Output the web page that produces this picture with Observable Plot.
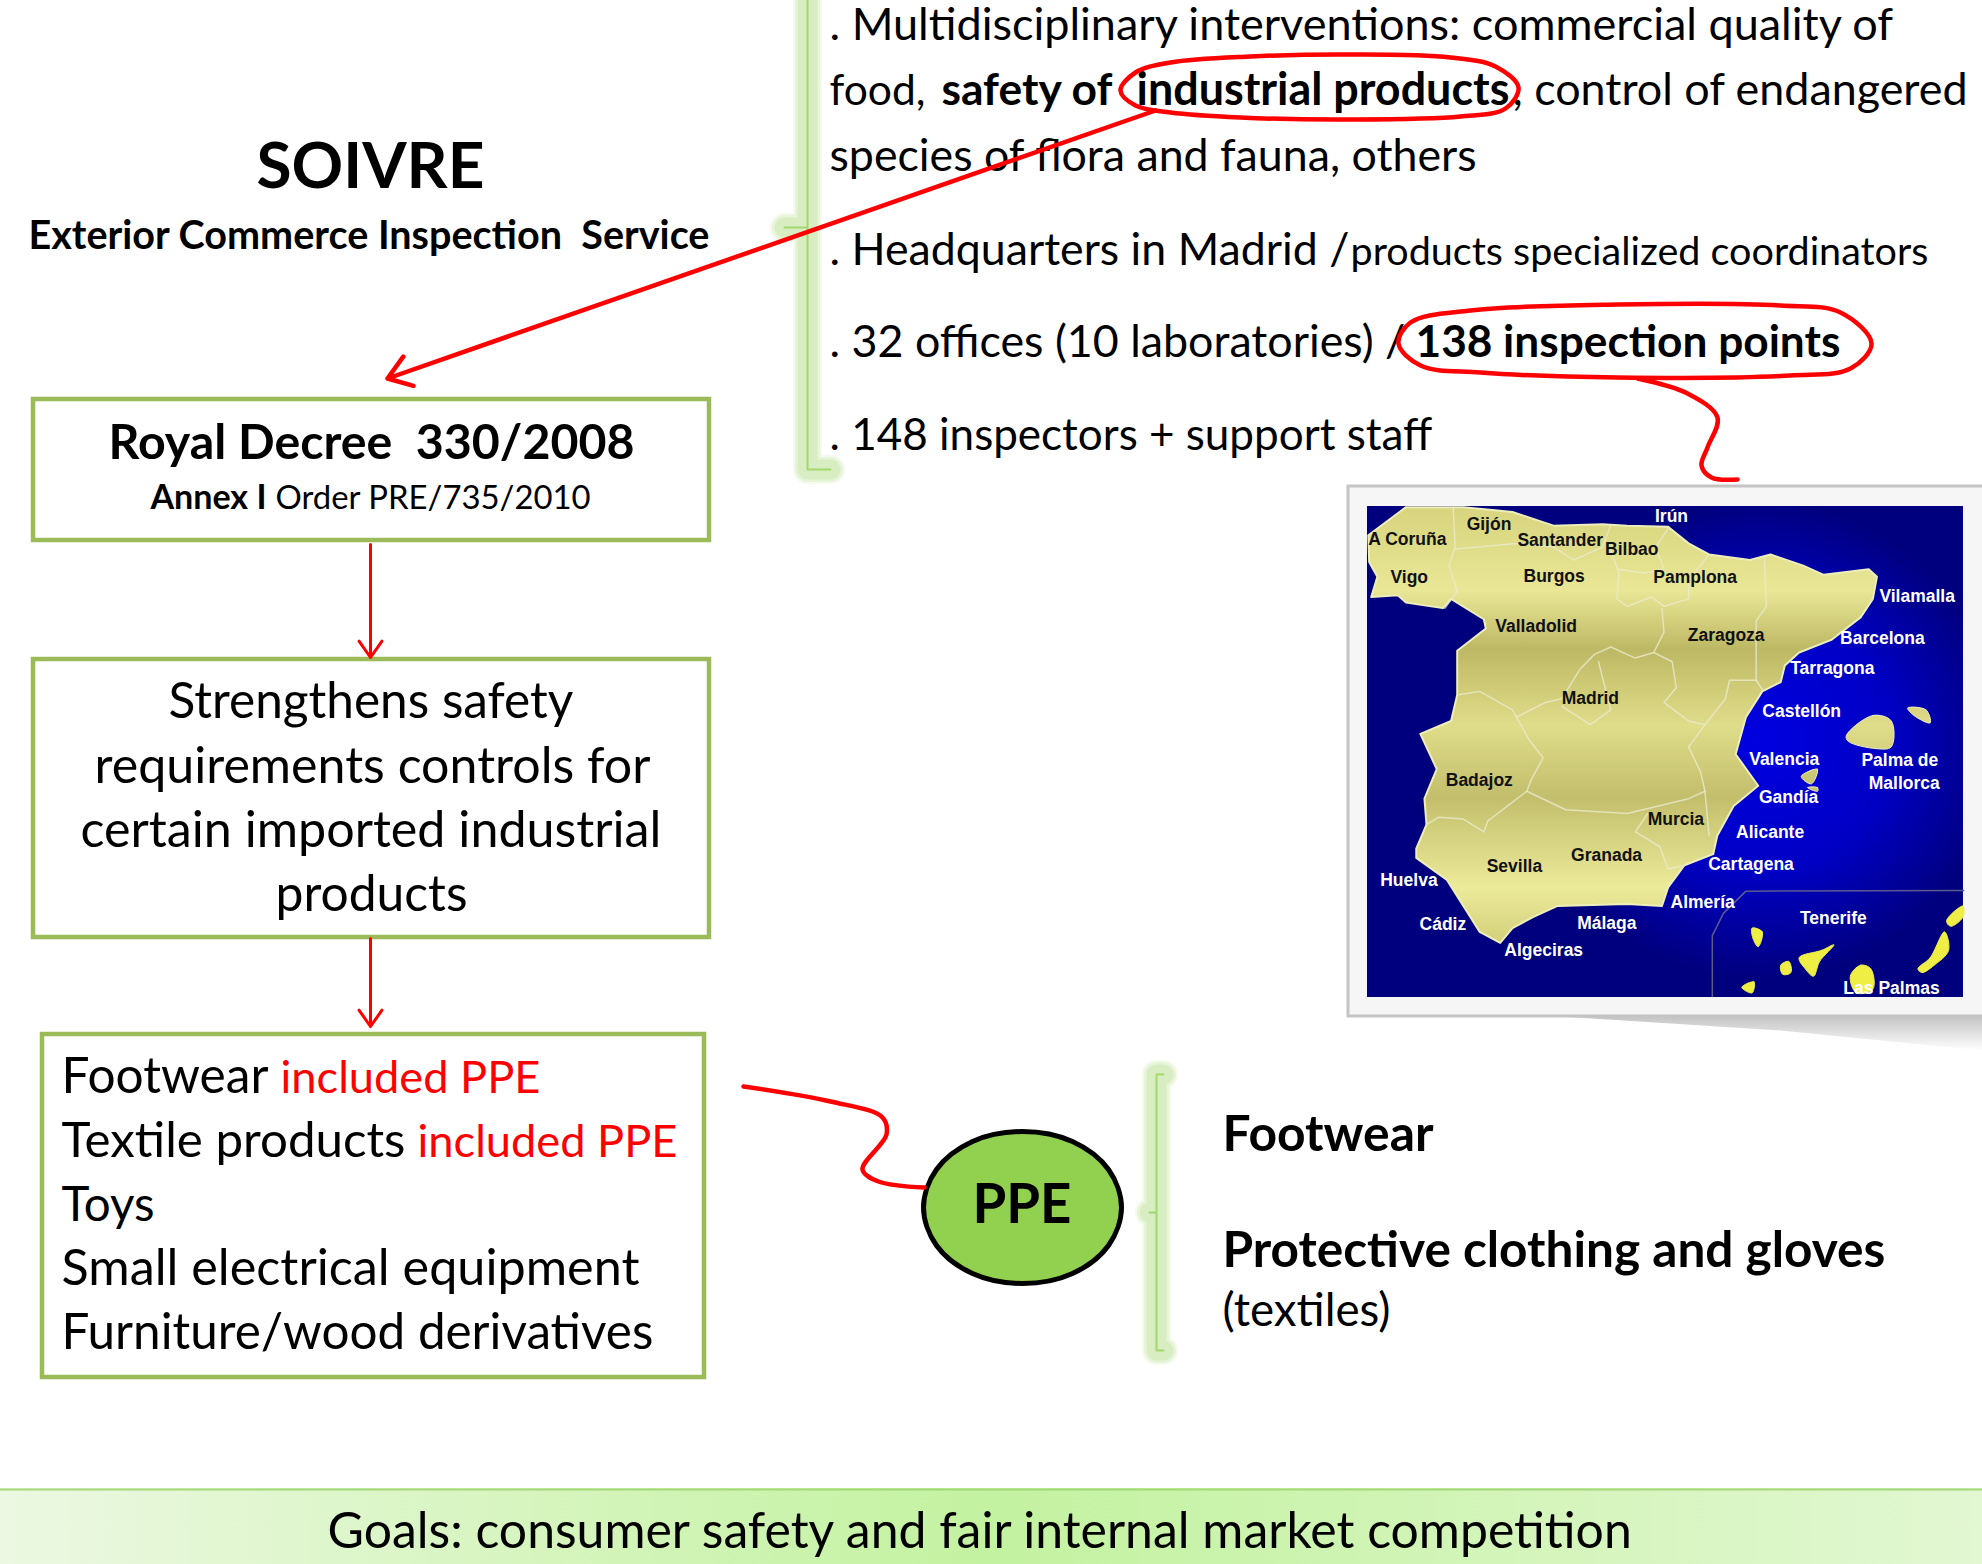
<!DOCTYPE html>
<html><head><meta charset="utf-8">
<style>html,body{margin:0;padding:0;background:#fff}svg{display:block}</style>
<script src="https://cdn.jsdelivr.net/npm/d3@7"></script>
<script src="https://cdn.jsdelivr.net/npm/@observablehq/plot@0.6"></script>
</head><body><div id="chart"></div>
<script>
// text: [string, left x, baseline y, width on the page]
const regularText = [
 [". Multidisciplinary interventions: commercial quality of",829,39,1066],
 ["food,",829,104,96],
 [", control of endangered",1512,104,456],
 ["species of flora and fauna, others",829,170,648],
 [". Headquarters in Madrid /",829,264,520],
 ["products specialized coordinators",1350,264,578],
 [". 32 offices (10 laboratories) /",829,356,576],
 [". 148 inspectors + support staff",829,449,603],
 ["Order PRE/735/2010",275,508,316],
 ["Strengthens safety",168,717,405],
 ["requirements controls for",94,782,556],
 ["certain imported industrial",80,846,581],
 ["products",275,910,192],
 ["Footwear",61,1092,207],
 ["Textile products",61,1156,344],
 ["Toys",61,1220,93],
 ["Small electrical equipment",61,1284,578],
 ["Furniture/wood derivatives",61,1348,592],
 ["(textiles)",1222,1325,168],
 ["Goals: consumer safety and fair internal market competition",327,1547,1308]
];
const boldText = [
 ["safety of",941,104,172],
 ["industrial products",1136,104,373],
 ["138 inspection points",1415,356,425],
 ["SOIVRE",256,187,228],
 ["Exterior Commerce Inspection  Service",28,248,682],
 ["Royal Decree  330/2008",108,458,526],
 ["Annex I",150,508,116],
 ["PPE",972,1222,99],
 ["Footwear",1222,1150,211],
 ["Protective clothing and gloves",1222,1266,663]
];
const redText = [
 ["included PPE",280,1092,260],
 ["included PPE",417,1156,260]
];
// boxes: x1,y1,x2,y2
const boxes = [[33,399,709,540],[33,659,709,937],[42,1034,704,1377]];
const slantArrow = [[1155,110,387,378]];
const downArrows = [[370,544,370,657],[370,938,370,1026]];
const ppeEllipse = [[1121,1207],[1108,1245],[1072,1273],[1022,1283],[972,1273],[936,1245],[923,1207],[936,1169],[972,1141],[1022,1131],[1072,1141],[1108,1169]];
const ringProducts = [[1120,90],[1135,72],[1170,62],[1250,56],[1350,54],[1450,57],[1495,66],[1518,87],[1505,108],[1460,116],[1345,119],[1240,117],[1170,112],[1135,105]];
const ringPoints = [[1398,343],[1410,322],[1470,310],[1617,304],[1780,305],[1840,312],[1871,343],[1850,368],[1790,375],[1617,377],[1480,372],[1420,365]];
const squiggleMap = [[1637,378],[1687,393],[1717,417],[1707,447],[1701,465],[1711,477],[1737,479]];
const squigglePPE = [[743,1086],[830,1101],[882,1117],[886,1134],[862,1169],[878,1181],[924,1187]];
const bracketTop = [[807,-8],[807,469],[830,469],[NaN,NaN],[784,227],[807,227]];
const bracketPPE = [[1163,1074],[1156,1074],[1156,1350],[1163,1350],[NaN,NaN],[1149,1212],[1156,1212]];

// map: in map units
const spain = [[68,148],[160,72],[300,72],[420,85],[520,122],[640,118],[700,122],[800,125],[850,170],[900,200],[1000,215],[1050,200],[1130,230],[1180,255],[1290,240],[1310,260],[1300,320],[1270,370],[1200,430],[1120,465],[1085,500],[1075,545],[1030,570],[990,640],[965,740],[1020,825],[960,880],[920,960],[910,1010],[840,1040],[800,1100],[785,1150],[700,1145],[530,1150],[470,1180],[420,1210],[390,1250],[340,1220],[300,1150],[260,1080],[185,1020],[185,995],[210,930],[205,860],[235,780],[195,685],[270,650],[285,580],[285,460],[355,400],[350,375],[270,320],[250,345],[160,330],[140,310],[75,315],[90,260],[70,220]];
const borders = [
 [[275,72],[280,180],[265,230],[285,300],[255,345]],
 [[280,185],[430,170],[520,180],[570,215],[640,180],[660,120]],
 [[660,190],[680,250],[675,320],[700,340],[760,315],[790,340],[850,320],[850,270],[900,200]],
 [[680,240],[740,250],[790,240],[770,180],[800,130]],
 [[785,345],[790,410],[765,465],[810,490],[820,560],[790,600],[850,650],[890,660]],
 [[1035,210],[1040,340],[1015,380],[1015,540],[1030,565]],
 [[1015,540],[950,540],[940,590],[890,660],[850,720],[880,790],[890,840],[900,960]],
 [[765,465],[720,480],[660,450],[620,470],[585,510],[540,590],[500,600],[430,640]],
 [[630,490],[660,620],[610,660],[540,610]],
 [[430,640],[460,700],[495,750],[465,810],[455,840],[360,920],[350,950],[300,915],[240,910],[210,930]],
 [[285,580],[340,570],[420,620],[430,640]],
 [[455,840],[550,890],[700,900],[850,860],[890,840]],
 [[750,900],[720,950],[780,990],[800,1050],[840,1040]]
];
const balearics = [
 [[1235,690],[1300,635],[1345,650],[1345,720],[1310,725],[1240,705]],
 [[1385,615],[1430,620],[1440,655],[1400,635]],
 [[1125,800],[1165,780],[1150,820]],
 [[1140,830],[1165,830],[1165,840]]
];
const canaries = [
 [[1005,1210],[1030,1220],[1020,1260],[1008,1240]],
 [[1120,1290],[1175,1270],[1205,1255],[1170,1300],[1155,1340],[1135,1320]],
 [[1075,1310],[1095,1300],[1100,1330],[1080,1335]],
 [[1245,1340],[1270,1310],[1295,1320],[1300,1375],[1260,1385]],
 [[980,1370],[1010,1355],[1005,1385]],
 [[1410,1320],[1440,1290],[1475,1220],[1485,1270],[1450,1310],[1420,1330]],
 [[1480,1190],[1520,1150],[1520,1180],[1490,1205]]
];
const insetLine = [[908,1395],[908,1230],[935,1170],[990,1110],[1522,1108]];
const darkPlaces = [["A Coruña",68,158],["Gijón",308,118],["Santander",432,162],["Bilbao",646,187],["Vigo",122,262],["Burgos",447,258],["Pamplona",764,262],["Valladolid",378,394],["Zaragoza",848,418],["Madrid",540,589],["Badajoz",257,810],["Murcia",750,917],["Granada",563,1012],["Sevilla",357,1042]];
const lightPlaces = [["Irún",768,97],["Vilamalla",1316,313],["Barcelona",1220,426],["Tarragona",1098,507],["Castellón",1030,624],["Valencia",998,753],["Palma de",1272,757],["Mallorca",1290,818],["Gandía",1022,856],["Alicante",966,951],["Cartagena",898,1038],["Huelva",97,1081],["Almería",806,1140],["Tenerife",1122,1183],["Cádiz",193,1200],["Málaga",578,1196],["Algeciras",400,1271],["Las Palmas",1228,1374]];
const mapFrame = [[1348,486,1990,1016]];
const mapPanel = [[1367,506,1963,997]];
const shadowShape = [[1560,1016],[1982,1016],[1982,1050],[1780,1030]];
const band = [[0,1488,1982,1564]];

const mx = d => 1340 + d[0] / 2.442, my = d => 480 + d[1] / 2.703;
const ctx = document.createElement("canvas").getContext("2d");
const FONT = "Lato";
const fit = (t, w, weight) => { ctx.font = `${weight} 100px ${FONT}`; return 100 * w / ctx.measureText(t).width; };

function defs() {
  const d = d3.create("svg:defs");
  const linear = (id, x1, y1, x2, y2, stops) => {
    const g = d.append("linearGradient").attr("id", id).attr("gradientUnits", "userSpaceOnUse")
      .attr("x1", x1).attr("y1", y1).attr("x2", x2).attr("y2", y2);
    stops.forEach(([o, c]) => g.append("stop").attr("offset", o).attr("stop-color", c));
  };
  linear("land", 0, 500, 0, 950, [[0,"#d6d27c"],[.2,"#e9e796"],[.33,"#bdb864"],[.5,"#e0dd8a"],[.66,"#c2be6c"],[.86,"#eceb9a"],[1,"#cfcc76"]]);
  linear("bandFill", 0, 0, 1982, 0, [[0,"#ecf8e2"],[.5,"#c3f2a0"],[1,"#e2f7d2"]]);
  linear("shade", 0, 1016, 0, 1050, [[0,"#c4c4c4"],[1,"#ffffff"]]);
  const r = d.append("radialGradient").attr("id", "sea").attr("gradientUnits", "userSpaceOnUse")
    .attr("cx", 1760).attr("cy", 740).attr("r", 240);
  [[0,"#0000e0"],[.55,"#0000c4"],[1,"#00007e"]].forEach(([o, c]) => r.append("stop").attr("offset", o).attr("stop-color", c));
  return d.node();
}

const textMark = (rows, fill, weight) => Plot.text(rows, {
  x: d => d[1], y: d => d[2], text: d => d[0],
  fontSize: d => fit(d[0], d[3], weight),
  fill, fontWeight: weight, fontFamily: FONT, textAnchor: "start", lineAnchor: "bottom"
});
const rectMark = (rows, o) => Plot.rect(rows, {x1: d => d[0], y1: d => d[1], x2: d => d[2], y2: d => d[3], ...o});
const path = (pts, o) => Plot.line(pts, {x: d => d[0], y: d => d[1], ...o});
const glow = (pts) => [
  path(pts, {stroke: "#92d050", strokeOpacity: .1, strokeWidth: 29}),
  path(pts, {stroke: "#92d050", strokeOpacity: .13, strokeWidth: 25}),
  path(pts, {stroke: "#92d050", strokeOpacity: .16, strokeWidth: 20}),
  path(pts, {stroke: "#a2d86c", strokeWidth: 2})
];
const place = (rows, fill) => Plot.text(rows, {
  x: d => mx([d[1]]), y: d => my([0, d[2]]), text: d => d[0],
  fill, fontSize: 17.5, fontWeight: 700, fontFamily: "Liberation Sans", textAnchor: "start", lineAnchor: "middle"
});
const mapPoly = (pts, o) => Plot.line(pts, {x: mx, y: my, curve: "linear-closed", ...o});

const chart = Plot.plot({
  width: 1982, height: 1564, margin: 0,
  x: {domain: [0, 1982], range: [0, 1982], axis: null},
  y: {domain: [0, 1564], range: [0, 1564], axis: null},
  style: {background: "#fff"},
  marks: [
    defs,
    Plot.line(shadowShape, {x: d => d[0], y: d => d[1], curve: "linear-closed", fill: "url(#shade)", stroke: "none"}),
    rectMark(mapFrame, {fill: "#f6f6f6", stroke: "#c4c4c4", strokeWidth: 3}),
    rectMark(mapPanel, {fill: "url(#sea)"}),
    mapPoly(spain, {fill: "url(#land)", stroke: "#eeeebb", strokeWidth: 2}),
    ...balearics.map(p => mapPoly(p, {fill: "url(#land)", stroke: "#eeeebb", strokeWidth: 1, curve: "catmull-rom-closed"})),
    ...canaries.map(p => mapPoly(p, {fill: "#eeee44", stroke: "#eeee44", strokeWidth: 1, curve: "catmull-rom-closed"})),
    ...borders.map(p => Plot.line(p, {x: mx, y: my, stroke: "#eaeacc", strokeWidth: 1.5, strokeOpacity: .8})),
    Plot.line(insetLine, {x: mx, y: my, stroke: "#5a5a90", strokeWidth: 1.5}),
    place(darkPlaces, "#111111"),
    place(lightPlaces, "#ffffff"),

    ...glow(bracketTop), ...glow(bracketPPE),

    ...boxes.map(b => rectMark([b], {fill: "#fff", stroke: "#9bbb59", strokeWidth: 4.5})),

    rectMark(band, {fill: "url(#bandFill)"}),
    Plot.ruleY([1489], {stroke: "#a5d878", strokeWidth: 2}),

    path(ppeEllipse, {fill: "#92d050", stroke: "#000", strokeWidth: 5, curve: "catmull-rom-closed"}),

    textMark(regularText, "#000", 400),
    textMark(boldText, "#000", 700),
    textMark(redText, "#ff0000", 400),

    path(ringProducts, {stroke: "#ff0000", strokeWidth: 4.5, curve: "catmull-rom-closed"}),
    path(ringPoints, {stroke: "#ff0000", strokeWidth: 4.5, curve: "catmull-rom-closed"}),
    path(squiggleMap, {stroke: "#ff0000", strokeWidth: 4.5, curve: "catmull-rom"}),
    path(squigglePPE, {stroke: "#ff0000", strokeWidth: 4.5, curve: "catmull-rom"}),
    Plot.arrow(slantArrow, {x1: d => d[0], y1: d => d[1], x2: d => d[2], y2: d => d[3], stroke: "#ff0000", strokeWidth: 4.5, headLength: 9, headAngle: 70}),
    Plot.arrow(downArrows, {x1: d => d[0], y1: d => d[1], x2: d => d[2], y2: d => d[3], stroke: "#ff0000", strokeWidth: 3, headLength: 10, headAngle: 70})
  ]
});
document.getElementById("chart").append(chart);
</script></body></html>
